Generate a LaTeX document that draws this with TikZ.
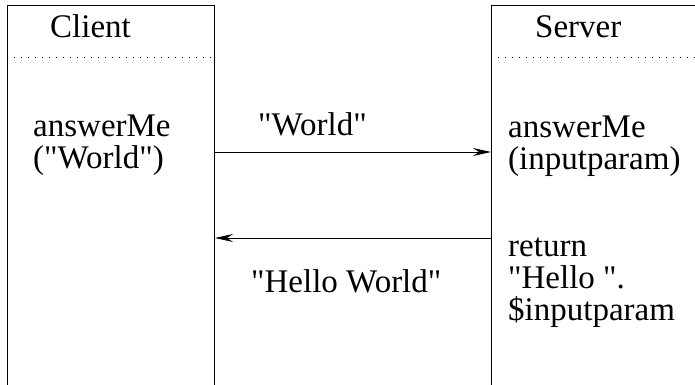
\documentclass[tikz,border=0pt]{standalone}
\usepackage{fontspec}
% straight quotes are wanted, so the TeX ligature mapping is switched off
\setmainfont{Liberation Serif}[Ligatures=TeXOff]
\usetikzlibrary{arrows.meta,positioning,calc}
\tikzset{
  lane/.style={draw=black, line width=1pt, rectangle, inner sep=0pt, anchor=north west},
  sep/.style={line width=1pt, dash pattern=on 1pt off 6pt},
  lbl/.style={anchor=base west, inner sep=0pt, font=\fontsize{33pt}{32pt}\selectfont},
  msg/.style={line width=1pt, -{Stealth[length=18pt,width=8pt,inset=6pt]}}
}
\begin{document}
\begin{tikzpicture}[x=1pt,y=-1pt]
\useasboundingbox (0,0) rectangle (695,384);
% the two lanes, open at the bottom (and at the right for the server)
\node[lane, minimum width=207pt, minimum height=420pt] (client) at (7,5) {};
\node[lane, minimum width=230pt, minimum height=420pt] (server) at (491,5) {};
% header separators
\draw[sep] (client.west |- 0,57) -- (client.east |- 0,57);
\draw[sep] (server.west |- 0,57) -- (695,57);
% headers
\node[lbl] (ct) at (50,37) {Client};
\node[lbl] (st) at (535,37) {Server};
% client call
\node[lbl] (c1) at (33,136) {answerMe};
\node[lbl] (c2) at (33,168) {("World")};
% server side
\node[lbl] (s1) at (508,137) {answerMe};
\node[lbl] (s2) at (508,169) {(inputparam)};
\node[lbl] (r1) at (508,256) {return};
\node[lbl] (r2) at (508,288) {"Hello ".};
\node[lbl] (r3) at (508,320) {\$inputparam};
% messages
\coordinate (m1) at (0,152);
\coordinate (m2) at (0,238);
\draw[msg] (client.east |- m1) -- (server.west |- m1);
\draw[msg] (server.west |- m2) -- (client.east |- m2);
\node[lbl] (w) at (258,135) {"World"};
\node[lbl] (hw) at (251,292) {"Hello World"};
\end{tikzpicture}
\end{document}
